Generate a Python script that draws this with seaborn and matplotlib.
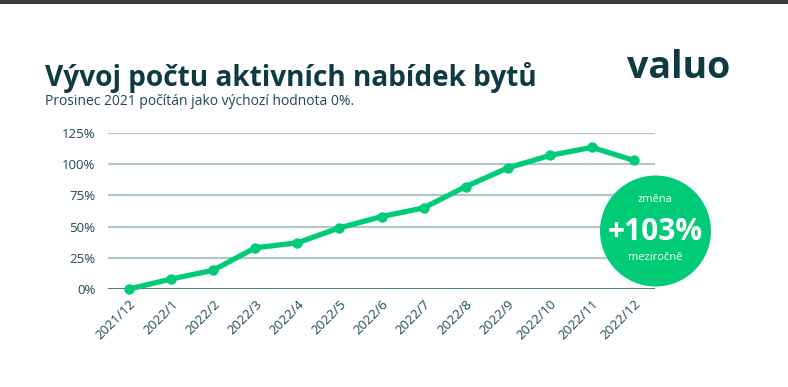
import matplotlib
matplotlib.use("Agg")
import matplotlib.pyplot as plt
import seaborn as sns
import pandas as pd
from matplotlib.patches import Ellipse, Rectangle

months = ["2021/12", "2022/1", "2022/2", "2022/3", "2022/4", "2022/5", "2022/6",
          "2022/7", "2022/8", "2022/9", "2022/10", "2022/11", "2022/12"]
values = [0, 8, 15, 33, 37, 49, 58, 65, 82, 97, 107, 113.5, 103]
yticks = [0, 25, 50, 75, 100, 125]
ytick_labels = ["0%", "25%", "50%", "75%", "100%", "125%"]

df = pd.DataFrame({"x": range(len(months)), "v": values})

sns.set_theme(style="white")
plt.rcParams["font.family"] = ["Open Sans", "DejaVu Sans"]

W, H = 788, 387
fig = plt.figure(figsize=(W / 100, H / 100), dpi=100)
fig.patch.set_facecolor("white")

def fx(px): return px / W
def fy(py): return 1 - py / H

# top dark bar
fig.add_artist(Rectangle((0, fy(4)), 1, 4 / H, transform=fig.transFigure,
                         facecolor="#3c3c3c", edgecolor="none"))

ax = fig.add_axes([fx(108), fy(289), fx(655) - fx(108), fy(133) - fy(289)])
ax.set_facecolor("white")

green = "#00CC77"
teal = "#1d4a55"

for t in yticks[1:]:
    ax.axhline(t, color="#b3c6ca", lw=1.6, zorder=1)
ax.axhline(0, color="#4f7b7c", lw=2.2, zorder=2)

sns.lineplot(data=df, x="x", y="v", ax=ax, color=green, lw=3.8, marker="o",
             markersize=7.5, markeredgewidth=0, zorder=3, clip_on=False)

ax.set_xlim(-0.5, 12.5)
ax.set_ylim(0, 125)
ax.set_yticks(yticks)
ax.set_yticklabels(ytick_labels, color=teal, fontsize=9.5)
ax.set_xticks(range(len(months)))
ax.set_xticklabels(months, rotation=45, ha="right", rotation_mode="anchor",
                   color=teal, fontsize=9.5)
ax.tick_params(axis="both", length=0)
ax.tick_params(axis="y", pad=9)
ax.tick_params(axis="x", pad=6)
ax.set_xlabel("")
ax.set_ylabel("")
for s in ax.spines.values():
    s.set_visible(False)

# circle badge
fig.add_artist(Ellipse((fx(655.5), fy(231)), 111 / W, 111 / H,
                       transform=fig.transFigure, facecolor=green,
                       edgecolor="none", zorder=10))
fig.text(fx(655.5), fy(199), "změna", color="white", fontsize=8,
         ha="center", va="center", zorder=11)
fig.text(fx(655.5), fy(231.5), "+103%", color="white", fontsize=21.5,
         fontweight="bold", ha="center", va="center", zorder=11)
fig.text(fx(655.5), fy(257), "meziročně", color="white", fontsize=8,
         ha="center", va="center", zorder=11)

# titles
fig.text(fx(45), fy(86), "Vývoj počtu aktivních nabídek bytů", color="#0f3a42",
         fontsize=20.2, fontweight="bold", ha="left", va="baseline")
fig.text(fx(45), fy(105), "Prosinec 2021 počítán jako výchozí hodnota 0%.",
         color=teal, fontsize=10, ha="left", va="baseline")
fig.text(fx(627), fy(78), "valuo", color="#0f3a42", fontsize=27,
         fontweight="bold", ha="left", va="baseline")

fig.savefig("out.png", dpi=100, facecolor="white")
